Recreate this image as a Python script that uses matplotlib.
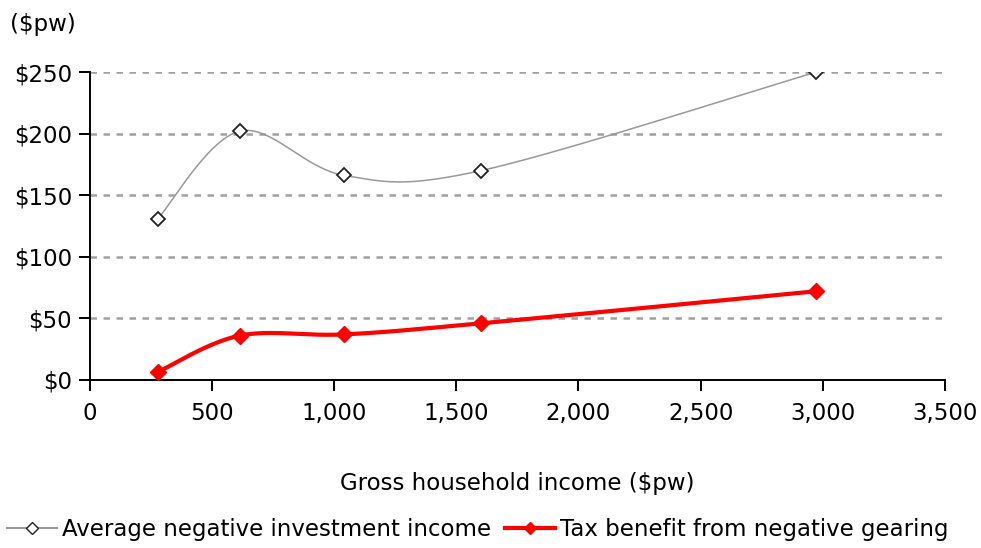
import numpy as np
import matplotlib
matplotlib.use("Agg")
import matplotlib.pyplot as plt
from matplotlib.lines import Line2D

income = [278, 613, 1042, 1602, 2972]
avg_neg_income = [131, 202, 166, 170, 250]
tax_benefit = [6.5, 36, 37, 46, 72]
xticks = [0, 500, 1000, 1500, 2000, 2500, 3000, 3500]
xticklabels = ["0", "500", "1,000", "1,500", "2,000", "2,500", "3,000", "3,500"]
yticks = [0, 50, 100, 150, 200, 250]
yticklabels = ["$0", "$50", "$100", "$150", "$200", "$250"]


def smooth(xs, ys, n=40):
    """Excel-style smoothed line (Catmull-Rom Bezier through the points)."""
    P = np.column_stack([xs, ys]).astype(float)
    out = []
    for i in range(len(P) - 1):
        p0 = P[i - 1] if i > 0 else P[i]
        p1 = P[i]
        p2 = P[i + 1]
        p3 = P[i + 2] if i + 2 < len(P) else P[i + 1]
        c1 = p1 + (p2 - p0) / 6.0
        c2 = p2 - (p3 - p1) / 6.0
        t = np.linspace(0, 1, n)[:, None]
        seg = ((1 - t) ** 3) * p1 + 3 * ((1 - t) ** 2) * t * c1 + 3 * (1 - t) * t ** 2 * c2 + t ** 3 * p2
        out.append(seg if i == 0 else seg[1:])
    arr = np.vstack(out)
    return arr[:, 0], arr[:, 1]


plt.rcParams['font.family'] = ['DejaVu Sans']
FS = 16.5
fig = plt.figure(figsize=(9.81, 5.48), dpi=100)
ax = fig.add_axes([0.0917, 0.3066, 0.8715, 0.562])

grey = "#999999"
red = "#ff0000"

for y in yticks[1:]:
    ax.axhline(y, color="#a0a0a0", lw=1.8, linestyle=(0, (2.6, 2.6)), zorder=1)

sx, sy = smooth(income, avg_neg_income)
ax.plot(sx, sy, color=grey, lw=1.1, zorder=2)
ax.plot(income, avg_neg_income, linestyle="none", marker="D", markersize=7.5,
        markerfacecolor="white", markeredgecolor="#222222", markeredgewidth=1.3, zorder=4)

rx, ry = smooth(income, tax_benefit)
ax.plot(rx, ry, color=red, lw=3.0, zorder=3)
ax.plot(income, tax_benefit, linestyle="none", marker="D", markersize=8.5,
        markerfacecolor=red, markeredgecolor=red, zorder=4)

ax.set_xlim(0, 3500)
ax.set_ylim(0, 250)
ax.set_xticks(xticks)
ax.set_xticklabels(xticklabels)
ax.set_yticks(yticks)
ax.set_yticklabels(yticklabels)
ax.tick_params(axis="x", direction="out", length=8, width=1.4, pad=8, labelsize=FS)
ax.tick_params(axis="y", direction="out", length=8, width=1.4, pad=5, labelsize=FS)
for s in ["top", "right"]:
    ax.spines[s].set_visible(False)
for s in ["left", "bottom"]:
    ax.spines[s].set_linewidth(1.4)
    ax.spines[s].set_color("black")

ax.set_xlabel("Gross household income ($pw)", fontsize=FS, labelpad=34)
fig.text(0.010, 0.955, "($pw)", fontsize=FS, ha="left", va="center")

handles = [
    Line2D([0], [0], color=grey, lw=1.5, marker="D", markersize=6,
           markerfacecolor="white", markeredgecolor="#222222"),
    Line2D([0], [0], color=red, lw=3.0, marker="D", markersize=6,
           markerfacecolor=red, markeredgecolor=red),
]
fig.legend(handles, ["Average negative investment income", "Tax benefit from negative gearing"],
           loc="center", bbox_to_anchor=(0.487, 0.033), ncol=2, frameon=False,
           fontsize=FS, handlelength=2.2, handletextpad=0.2, columnspacing=0.6)

fig.savefig("out.png", dpi=100)
